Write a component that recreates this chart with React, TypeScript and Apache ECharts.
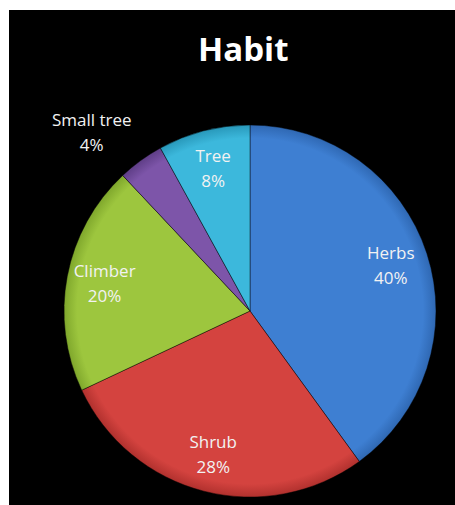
import React, { useEffect, useRef } from "react";
import * as echarts from "echarts";

const categories = ["Herbs", "Shrub", "Climber", "Small tree", "Tree"];
const percents = [40, 28, 20, 4, 8];
const colors = ["#3e7fd2", "#d4433f", "#9dc63e", "#7d55a9", "#3cb8dc"];
const edgeColors = ["#2f68b3", "#b1312e", "#7fa72c", "#5f3e87", "#2898ba"];

export default function App() {
  const ref = useRef<HTMLDivElement>(null);
  useEffect(() => {
    document.body.style.margin = "0";
    const chart = echarts.init(ref.current!, null, { renderer: "svg" });
    const cx = 241;
    const cy = 301;
    const R = 186;
    const data = categories.map((name, i) => ({
      name,
      value: percents[i],
      itemStyle: {
        color: new echarts.graphic.RadialGradient(
          cx,
          cy,
          R,
          [
            { offset: 0, color: colors[i] },
            { offset: 0.93, color: colors[i] },
            { offset: 1, color: edgeColors[i] },
          ],
          true
        ),
      },
    }));
    const labelData = categories.map((name, i) => ({
      name,
      value: percents[i],
      ...(name === "Small tree"
        ? {
            label: { position: "outside" },
            labelLine: { show: false, length: 34, length2: 0 },
          }
        : {}),
    }));
    chart.setOption({
      animation: false,
      backgroundColor: "#000000",
      title: {
        text: "Habit",
        left: 184,
        top: 17,
        textStyle: {
          color: "#ffffff",
          fontFamily: "Open Sans",
          fontWeight: "bold",
          fontSize: 33,
        },
      },
      series: [
        {
          type: "pie",
          center: [cx, cy],
          radius: R,
          startAngle: 90,
          clockwise: true,
          silent: true,
          label: { show: false },
          labelLine: { show: false },
          itemStyle: { borderColor: "rgba(0,0,0,0.45)", borderWidth: 1 },
          data,
        },
        {
          type: "pie",
          center: [cx, cy],
          radius: [104, R],
          startAngle: 90,
          clockwise: true,
          silent: true,
          itemStyle: { color: "rgba(0,0,0,0)", borderWidth: 0 },
          labelLine: { show: false },
          label: {
            show: true,
            position: "inside",
            color: "#f2f2f2",
            fontFamily: "Open Sans",
            fontSize: 17,
            lineHeight: 25,
            formatter: (p: any) => `{a|${p.name}}\n{a|${p.value}%}`,
            rich: {
              a: {
                color: "#f2f2f2",
                fontFamily: "Open Sans",
                fontSize: 17,
                lineHeight: 25,
                width: 90,
                align: "center",
              },
            },
          },
          labelLayout: (p: any) => (p.dataIndex === 3 ? { dx: 21, dy: -1 } : {}),
          data: labelData,
        },
      ],
    });
    return () => chart.dispose();
  }, []);
  return (
    <div
      style={{
        position: "fixed",
        left: 0,
        top: 0,
        width: 455,
        height: 505,
        background: "#ffffff",
      }}
    >
      <div
        ref={ref}
        style={{ position: "absolute", left: 9, top: 10, width: 446, height: 495 }}
      />
    </div>
  );
}
